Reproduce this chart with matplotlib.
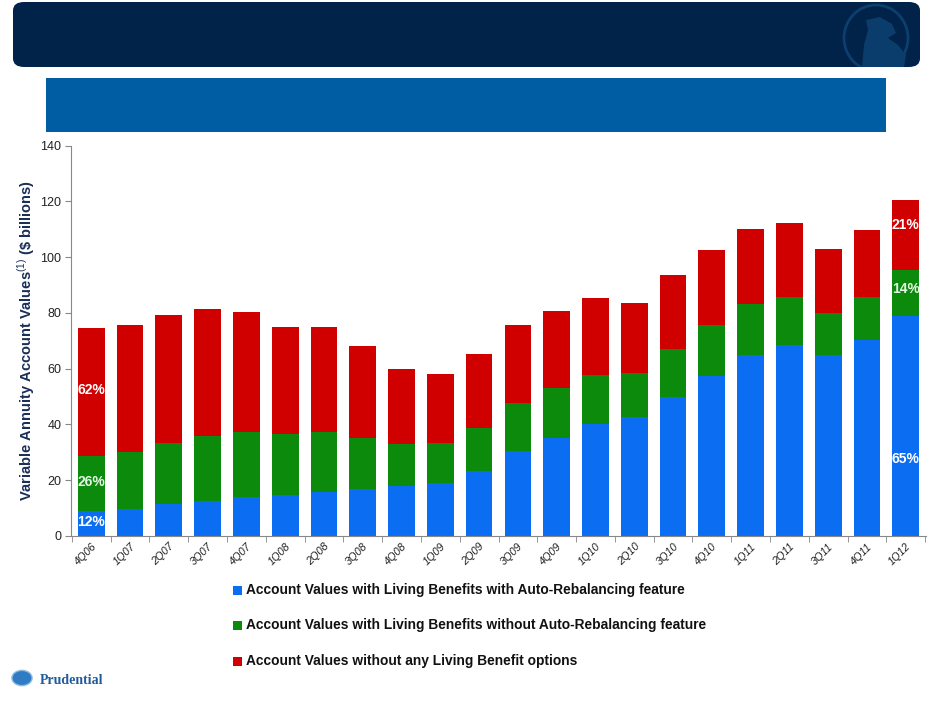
import matplotlib
matplotlib.use("Agg")
import matplotlib.pyplot as plt
import numpy as np
from matplotlib.patches import FancyBboxPatch, Rectangle, Ellipse, Polygon, Circle

plt.rcParams['font.family'] = ['Liberation Sans', 'DejaVu Sans']
plt.rcParams['mathtext.fontset'] = 'custom'
plt.rcParams['mathtext.rm'] = 'Liberation Sans'

quarters = ["4Q06", "1Q07", "2Q07", "3Q07", "4Q07", "1Q08", "2Q08", "3Q08", "4Q08",
            "1Q09", "2Q09", "3Q09", "4Q09", "1Q10", "2Q10", "3Q10", "4Q10", "1Q11",
            "2Q11", "3Q11", "4Q11", "1Q12"]
# segment values ($ billions)
with_auto_rebal = [9.1, 9.8, 11.3, 12.6, 14.1, 14.6, 15.9, 16.7, 17.8, 19.1, 23.3,
                   30.3, 35.1, 40.1, 42.5, 49.9, 57.4, 65.0, 68.6, 65.0, 70.4, 79.0]
without_auto_rebal = [19.5, 20.3, 22.1, 23.3, 23.2, 21.8, 21.4, 18.5, 15.1, 14.3, 15.5,
                      17.4, 17.9, 17.8, 16.1, 17.2, 18.1, 18.1, 17.2, 14.8, 15.4, 16.2]
no_living_benefit = [46.0, 45.6, 45.8, 45.5, 43.0, 38.5, 37.6, 32.9, 27.0, 24.7, 26.5,
                     28.0, 27.7, 27.6, 24.9, 26.6, 27.1, 27.1, 26.5, 23.2, 24.0, 25.3]
series_names = ["Account Values with Living Benefits with Auto-Rebalancing feature",
                "Account Values with Living Benefits without Auto-Rebalancing feature",
                "Account Values without any Living Benefit options"]
first_pcts = ["12%", "26%", "62%"]
last_pcts = ["65%", "14%", "21%"]
yticks = [0, 20, 40, 60, 80, 100, 120, 140]

colors = ['#0B6EF2', '#0C8A0C', '#D00000']

W, H = 931, 705
fig = plt.figure(figsize=(W / 100, H / 100), dpi=100)

def fx(px):
    return px / W

def fy(py):
    return 1 - py / H

# header bands
hdr = FancyBboxPatch((fx(13), fy(67)), fx(920) - fx(13), fy(2) - fy(67),
                     boxstyle="round,pad=0,rounding_size=0.012",
                     transform=fig.transFigure, facecolor='#012249', edgecolor='none')
fig.patches.append(hdr)
fig.patches.append(Rectangle((fx(46), fy(132)), fx(886) - fx(46), fy(78) - fy(132),
                             transform=fig.transFigure, facecolor='#005CA3', edgecolor='none'))

# rock logo (decorative) at top right, in pixel coordinates
lax = fig.add_axes([fx(836), fy(67), fx(918) - fx(836), fy(3) - fy(67)])
lax.set_zorder(3)
lax.set_xlim(836, 918); lax.set_ylim(67, 3); lax.axis('off')
lax.add_patch(Ellipse((876, 38), 64, 66, facecolor='none', edgecolor='#0D3F6E', lw=2.0))
lax.add_patch(Polygon([(862, 67), (864, 45), (868, 30), (866, 20), (880, 17), (892, 24),
                       (896, 33), (888, 38), (898, 45), (906, 55), (904, 67)], closed=True,
                      facecolor='#0A3D6C', edgecolor='none'))

# main axes
ax = fig.add_axes([fx(71), fy(536), fx(926) - fx(71), fy(145.5) - fy(536)])
x = np.arange(len(quarters))
b1 = np.array(with_auto_rebal)
b2 = np.array(without_auto_rebal)
b3 = np.array(no_living_benefit)
bw = 0.69
ax.bar(x, b1, bw, color=colors[0], label=series_names[0])
ax.bar(x, b2, bw, bottom=b1, color=colors[1], label=series_names[1])
ax.bar(x, b3, bw, bottom=b1 + b2, color=colors[2], label=series_names[2])

ax.set_xlim(-0.52, len(quarters) - 0.48)
ax.set_ylim(0, 140)
ax.set_yticks(yticks)
ax.tick_params(axis='y', labelsize=9, length=4, colors='#888888', labelcolor='#222222', pad=3)
ax.set_xticks(x)
ax.set_xticklabels(quarters, rotation=45, ha='right', va='top', rotation_mode='anchor',
                   fontsize=7.8, color='#222222', style='italic')
ax.tick_params(axis='x', length=0, pad=4)
ax.set_xticks(np.arange(-0.5, len(quarters) + 0.5, 1), minor=True)
ax.tick_params(axis='x', which='minor', length=4, color='#888888')
for s in ['top', 'right']:
    ax.spines[s].set_visible(False)
for s in ['left', 'bottom']:
    ax.spines[s].set_color('#888888')

ax.set_ylabel(r"Variable Annuity Account Values$^{(1)}$ (\$ billions)",
              fontsize=10.5, fontweight='bold', color='#1A2E57', labelpad=2)

# percentage annotations
pct_colors = ['white', '#E4F6E4', 'white']
ypos_0 = [5.0, 19.5, 52.5]
for i in range(3):
    ax.text(0, ypos_0[i], first_pcts[i], ha='center', va='center',
            fontsize=10, fontweight='bold', color=pct_colors[i])
n = len(quarters) - 1
ypos_n = [27.5, 88.5, 111.5]
for i in range(3):
    ax.text(n, ypos_n[i], last_pcts[i], ha='center', va='center',
            fontsize=10, fontweight='bold', color=pct_colors[i])

# legend (manual, vertical list)
for i in range(3):
    yy = 590 + i * 35.5
    fig.patches.append(Rectangle((fx(233), fy(yy + 4.5)), fx(9), fy(0) - fy(9),
                                 transform=fig.transFigure, facecolor=colors[i], edgecolor='none'))
    fig.text(fx(246), fy(yy), series_names[i], fontsize=9.9, fontweight='bold',
             color='#111111', ha='left', va='center')

# Prudential logo bottom left
fig.patches.append(Circle((fx(22), fy(678)), 0.0108, transform=fig.transFigure,
                          facecolor='#2E7CC4', edgecolor='#8DB8E0', lw=1))
fig.text(fx(40), fy(680), "Prudential", fontsize=10, family=['Liberation Serif', 'DejaVu Serif'],
         color='#1F5C9E', ha='left', va='center', fontweight='bold')

fig.savefig("out.png", dpi=100)
